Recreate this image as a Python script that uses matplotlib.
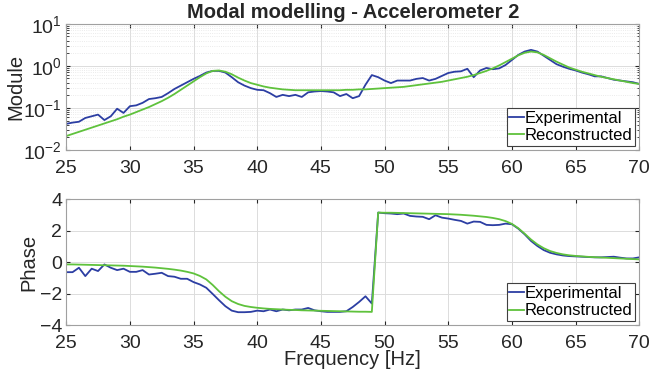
import numpy as np
import matplotlib
matplotlib.use("Agg")
import matplotlib.pyplot as plt

plt.rcParams['font.family'] = ['Liberation Sans', 'DejaVu Sans']
plt.rcParams['mathtext.fontset'] = 'custom'
plt.rcParams['mathtext.rm'] = 'Liberation Sans'
plt.rcParams['mathtext.it'] = 'Liberation Sans'

# frequency grid of the measurement (Hz)
freq = np.arange(25, 70.01, 0.5)

module_exp_log10 = [
    -1.38, -1.35, -1.33, -1.24, -1.20, -1.16, -1.29, -1.20, -1.02, -1.12,
    -0.96, -0.94, -0.88, -0.79, -0.77, -0.74, -0.65, -0.55, -0.47, -0.39,
    -0.31, -0.24, -0.16, -0.12, -0.12, -0.16, -0.27, -0.39, -0.47, -0.53,
    -0.57, -0.58, -0.65, -0.74, -0.69, -0.72, -0.69, -0.74, -0.63, -0.61,
    -0.60, -0.61, -0.63, -0.72, -0.67, -0.77, -0.72, -0.45, -0.22, -0.27,
    -0.35, -0.41, -0.35, -0.35, -0.35, -0.31, -0.29, -0.35, -0.31, -0.24,
    -0.17, -0.14, -0.13, -0.07, -0.27, -0.11, -0.05, -0.08, -0.06, 0.02,
    0.14, 0.26, 0.34, 0.38, 0.34, 0.24, 0.14, 0.04, -0.02, -0.07,
    -0.11, -0.16, -0.20, -0.25, -0.25, -0.29, -0.33, -0.35, -0.37, -0.39,
    -0.43]
module_rec_log10 = [
    -1.67, -1.62, -1.57, -1.52, -1.47, -1.42, -1.37, -1.32, -1.27, -1.21,
    -1.16, -1.10, -1.04, -0.98, -0.91, -0.84, -0.76, -0.67, -0.57, -0.47,
    -0.37, -0.27, -0.18, -0.12, -0.11, -0.14, -0.20, -0.28, -0.35, -0.41,
    -0.45, -0.49, -0.52, -0.54, -0.56, -0.57, -0.58, -0.58, -0.58, -0.58,
    -0.58, -0.58, -0.58, -0.58, -0.57, -0.57, -0.56, -0.56, -0.55, -0.54,
    -0.53, -0.52, -0.51, -0.50, -0.48, -0.46, -0.44, -0.42, -0.40, -0.38,
    -0.35, -0.32, -0.29, -0.26, -0.22, -0.17, -0.12, -0.06, 0.01, 0.09,
    0.17, 0.25, 0.31, 0.34, 0.32, 0.26, 0.18, 0.10, 0.03, -0.04,
    -0.09, -0.14, -0.18, -0.22, -0.26, -0.29, -0.32, -0.35, -0.38, -0.41,
    -0.43]

# phase (rad)
phase_exp = [
    -0.64, -0.64, -0.36, -0.89, -0.42, -0.57, -0.15, -0.36, -0.51, -0.42,
    -0.62, -0.62, -0.51, -0.79, -0.74, -0.68, -0.89, -0.93, -1.06, -1.06,
    -1.27, -1.42, -1.63, -2.02, -2.42, -2.80, -3.08, -3.18, -3.18, -3.16,
    -3.08, -3.12, -3.01, -3.12, -3.01, -3.06, -3.01, -3.01, -2.91, -3.06,
    -3.12, -3.16, -3.16, -3.16, -3.12, -2.85, -2.53, -2.17, -2.63, 3.14,
    3.10, 3.08, 3.04, 3.08, 2.93, 2.89, 2.87, 2.72, 2.97, 2.82,
    2.76, 2.68, 2.61, 2.44, 2.57, 2.55, 2.36, 2.34, 2.36, 2.44,
    2.40, 2.12, 1.76, 1.34, 1.02, 0.76, 0.59, 0.49, 0.42, 0.38,
    0.36, 0.34, 0.32, 0.30, 0.30, 0.32, 0.34, 0.28, 0.23, 0.23,
    0.30]
phase_rec = [
    -0.15, -0.15, -0.16, -0.17, -0.18, -0.19, -0.20, -0.21, -0.22, -0.23,
    -0.25, -0.27, -0.29, -0.32, -0.35, -0.39, -0.43, -0.48, -0.54, -0.62,
    -0.72, -0.88, -1.10, -1.45, -1.85, -2.20, -2.48, -2.66, -2.78, -2.85,
    -2.90, -2.94, -2.97, -2.99, -3.01, -3.03, -3.04, -3.06, -3.07, -3.08,
    -3.09, -3.10, -3.11, -3.12, -3.13, -3.14, -3.15, -3.15, -3.16, 3.14,
    3.13, 3.13, 3.12, 3.11, 3.10, 3.09, 3.08, 3.07, 3.06, 3.05,
    3.04, 3.02, 3.00, 2.97, 2.94, 2.90, 2.86, 2.80, 2.72, 2.60,
    2.42, 2.15, 1.80, 1.43, 1.12, 0.88, 0.70, 0.58, 0.49, 0.43,
    0.39, 0.36, 0.33, 0.31, 0.29, 0.27, 0.25, 0.23, 0.21, 0.19,
    0.17]

blue = '#2c3ea3'
green = '#5fc23c'
axcol = '#a0a0a0'
txtcol = '#262626'

fig = plt.figure(figsize=(6.49, 3.72), dpi=100)
ax1 = fig.add_axes([0.102, 0.597, 0.883, 0.339])
ax2 = fig.add_axes([0.102, 0.126, 0.883, 0.339])

ax1.plot(freq, 10.0 ** np.array(module_exp_log10), color=blue, lw=1.3, label='Experimental')
ax1.plot(freq, 10.0 ** np.array(module_rec_log10), color=green, lw=1.3, label='Reconstructed')
ax1.set_yscale('log')
ax1.set_ylim(1e-2, 1e1)
ax1.set_ylabel('Module', fontsize=14.5, color=txtcol)
ax1.yaxis.set_label_coords(-0.072, 0.5)
ax1.set_title('Modal modelling - Accelerometer 2', fontsize=14.5, fontweight='bold',
              color=txtcol, pad=4)

ax2.plot(freq, phase_exp, color=blue, lw=1.3, label='Experimental')
ax2.plot(freq, phase_rec, color=green, lw=1.3, label='Reconstructed')
ax2.set_ylim(-4, 4)
ax2.set_yticks([-4, -2, 0, 2, 4])
ax2.set_ylabel('Phase', fontsize=14.5, color=txtcol)
ax2.yaxis.set_label_coords(-0.048, 0.5)
ax2.set_xlabel('Frequency [Hz]', fontsize=14.5, color=txtcol)
ax2.xaxis.set_label_coords(0.5, -0.2)

for ax in (ax1, ax2):
    ax.set_xlim(25, 70)
    ax.set_xticks(np.arange(25, 71, 5))
    ax.grid(True, which='major', color='#dcdcdc', lw=0.7)
    ax.tick_params(which='both', direction='in', top=True, right=True,
                   labelsize=14, colors=txtcol, length=3)
    ax.tick_params(axis='x', pad=7)
    ax.tick_params(axis='y', pad=3)
    ax.tick_params(which='minor', length=1.8)
    for s in ax.spines.values():
        s.set_color(axcol)
        s.set_linewidth(0.8)
    leg = ax.legend(loc='lower right', fontsize=12, handlelength=0.9,
                    handletextpad=0.05, borderpad=0.15, labelspacing=0.15,
                    fancybox=False, framealpha=1, borderaxespad=0.25)
    leg.get_frame().set_edgecolor('#404040')
    leg.get_frame().set_linewidth(0.8)

ax1.grid(True, which='minor', axis='y', color='#e4e4e4', lw=0.6, ls=':')

fig.savefig('out.png', dpi=100)
